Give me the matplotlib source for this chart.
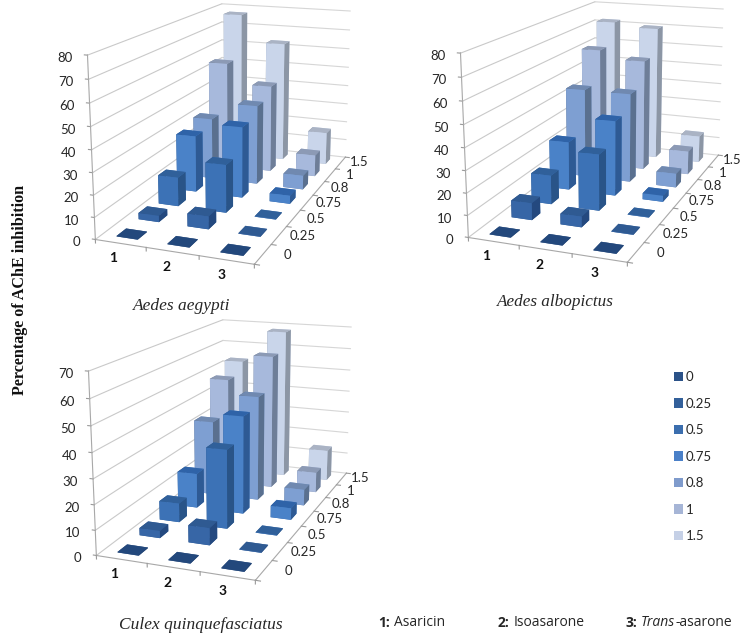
import numpy as np
import matplotlib
matplotlib.use("Agg")
import matplotlib.pyplot as plt
from matplotlib.patches import Patch
from mpl_toolkits.mplot3d import proj3d

W, H = 747, 641

compounds = ["1", "2", "3"]
doses = ["0", "0.25", "0.5", "0.75", "0.8", "1", "1.5"]

# one row per dose, one column per compound
aegypti = [[0, 0, 0], [3, 6, 0], [14, 23, 0], [28, 35, 4], [31, 40, 7], [55, 45, 11], [77, 63, 17]]
albopictus = [[0, 0, 0], [8, 5, 0], [14, 27, 0], [24, 37, 3], [45, 45, 7], [61, 57, 12], [72, 70, 14]]
culex = [[0, 0, 0], [3, 7, 0], [8, 33, 0], [15, 42, 5], [33, 46, 7], [48, 60, 9], [53, 68, 14]]

aegypti_ticks = list(range(0, 81, 10))
albopictus_ticks = list(range(0, 81, 10))
culex_ticks = list(range(0, 71, 10))

# front, right side, top of each dose's bars
front = ["#23487c", "#3766a6", "#3c72b6", "#4a82c8", "#7e9fd2", "#a7b9dc", "#c9d5ea"]
side = ["#1f3f6e", "#24497f", "#295488", "#2e5a94", "#5a708f", "#6e7e98", "#8c96a5"]
top = ["#23487c", "#2f5a92", "#30609a", "#2f63a8", "#7089b0", "#8c9ab5", "#aab3c4"]
legend_colors = ["#2b5288", "#33609a", "#3b6eae", "#4a80c8", "#7f9bcc", "#a6b5d6", "#c5d0e6"]

GRID = "#c9c9c9"
TEXT = "#262626"
SIZE = 376
PX = 0.185 / SIZE  # projected units per pixel


def px_text(x, y, s, **kw):
    kw.setdefault("va", "center")
    return fig.text(x / W, 1 - y / H, s, **kw)


def label(ax, x, y, z, s, off=(0, 0), **kw):
    # text at a 3d point, shifted by some pixels on screen
    x2, y2, _ = proj3d.proj_transform(x, y, z, ax.get_proj())
    ax.text2D(x2 + off[0] * PX, y2 - off[1] * PX, s, transform=ax.transData,
              va="center", family="Lato", zorder=500, **kw)


def draw_chart(values, zticks, dx, dy):
    # camera fitted to the corners of the reference walls
    left = 42.5 + dx
    bottom = H - (113.8 + dy) - 193
    ax = fig.add_axes([left / W, bottom / H, SIZE / W, SIZE / H], projection="3d")
    ax.set_proj_type("persp", focal_length=0.458)
    ax.view_init(elev=15.23, azim=-69.44)
    ax.set_box_aspect((1, 2.07, 1.114))
    ax.set_xlim(0, 3)
    ax.set_ylim(0, 7)
    ax.set_zlim(0, zticks[-1])
    ax.set_axis_off()
    ax.patch.set_visible(False)
    ax.computed_zorder = False

    ny, nx = len(doses), len(compounds)
    zmax = zticks[-1]

    # walls
    for z in zticks:
        ax.plot([0, 0], [0, ny], [z, z], color=GRID, lw=0.8, zorder=1)
        ax.plot([0, nx], [ny, ny], [z, z], color="#d6d6d6", lw=0.8, zorder=1)
        ax.plot([0, -0.06], [0, 0], [z, z], color="#9a9a9a", lw=0.8, zorder=1)
        label(ax, 0, 0, z, str(z), off=(-15, 3), ha="right", fontsize=9.5, color=TEXT)
    ax.plot([0, 0], [0, 0], [0, zmax], color="#a8a8a8", lw=0.8, zorder=1)

    # floor edges and their ticks
    ax.plot([0, nx], [0, 0], [0, 0], color="#a8a8a8", lw=0.8, zorder=2)
    ax.plot([nx, nx], [0, ny], [0, 0], color="#a8a8a8", lw=0.8, zorder=2)
    for i in range(nx + 1):
        ax.plot([i, i], [0, 0], [0, -0.02 * zmax], color="#9a9a9a", lw=0.8, zorder=2)
    for j in range(ny + 1):
        ax.plot([nx, nx + 0.09], [j, j], [0, 0], color="#9a9a9a", lw=0.8, zorder=2)

    for i, s in enumerate(compounds):
        label(ax, i + 0.5, -0.55, 0, s, off=(6, 4), ha="center", fontsize=10,
              weight="bold", color="#111111")
    for j, s in enumerate(doses):
        label(ax, nx + 0.5, j + 0.5, 0, s, off=(-3, -3), ha="center", fontsize=9.5, color=TEXT)

    # bars, back to front so that they overlap the right way
    order = 10
    bw, bd = 0.42, 0.42
    for j in range(ny - 1, -1, -1):
        for i in range(nx):
            h = max(values[j][i], 0.25)
            colors = [top[j], top[j], front[j], front[j], side[j], side[j]]
            bar = ax.bar3d(i + 0.5 - bw / 2, j + 0.5 - bd / 2, 0, bw, bd, h,
                           color=colors, shade=False, linewidth=0)
            bar.set_zorder(order)
            order += 1
    return ax


fig = plt.figure(figsize=(W / 100, H / 100), dpi=100)

draw_chart(aegypti, aegypti_ticks, 0, 0)
draw_chart(albopictus, albopictus_ticks, 373, -2)
draw_chart(culex, culex_ticks, 1, 316)

px_text(182, 306, "Aedes aegypti", ha="center", family="Liberation Serif",
        style="italic", fontsize=12.5, color=TEXT)
px_text(555, 302, "Aedes albopictus", ha="center", family="Liberation Serif",
        style="italic", fontsize=12.3, color=TEXT)
px_text(201, 625, "Culex quinquefasciatus", ha="center", family="Liberation Serif",
        style="italic", fontsize=12.5, color=TEXT)
px_text(20, 290, "Percentage of AChE inhibition", ha="center", rotation=90,
        family="Liberation Serif", weight="bold", fontsize=11.6, color="#111111")

handles = [Patch(facecolor=c, edgecolor="none") for c in legend_colors]
fig.legend(handles, doses, loc="upper left", bbox_to_anchor=(674 / W, 1 - 371 / H),
           frameon=False, prop={"family": "Lato", "size": 9.5}, labelcolor=TEXT,
           handlelength=0.7, handleheight=0.7, handletextpad=0.2,
           labelspacing=1.1, borderpad=0, borderaxespad=0)

for x, s, kw in [(378, "1:", {"weight": "bold"}), (394, "Asaricin", {}),
                 (498, "2:", {"weight": "bold"}), (514, "Isoasarone", {}),
                 (626, "3:", {"weight": "bold"}), (641, "Trans", {"style": "italic"}),
                 (676, "-asarone", {})]:
    px_text(x, 623, s, family="Open Sans", fontsize=10, color=TEXT, **kw)

fig.savefig("out.png", dpi=100)
